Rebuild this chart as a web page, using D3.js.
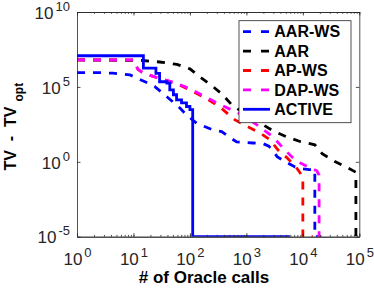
<!DOCTYPE html>
<meta charset="utf-8">
<script src="https://d3js.org/d3.v7.min.js"></script>
<body style="margin:0;background-color:white">
<div id="chart"></div>
</body>
<script>
  // [# of oracle calls, TV - TV_opt]
  const aarWs = [[1,9e5],[2.5,9e5],[4.3,8.2e5],[8.7,6.3e5],[16,2.2e5],[24,1.05e5],[39,2.2e4],[66,4e3],[87,1.35e3],
    [131,380],[255,135],[365,105],[460,55],[673,21],[1300,18],[2000,16],[2500,11],[3000,5],[3500,2.2],[4900,1],
    [7300,0.45],[9300,0.35],[13000,0.3],[16300,0.3],[16300,1e-5],[18500,1e-5]];
  const aar = [[1,6.3e6],[14.7,5.8e6],[29,4.6e6],[59,3.2e6],[100,1.6e6],[150,4.6e5],[245,1.2e5],[368,3.4e4],[553,6.3e3],
    [1020,1.35e3],[1740,400],[2950,117],[5200,46],[8900,22.6],[16300,13.5],[22000,3.5],[37000,1.05],[62000,0.4],
    [87000,0.2],[87000,1e-5]];
  const apWs = [[1,6.3e6],[10,6.3e6],[12,1.5e6],[14,1e6],[21,5.4e5],[36,2.8e5],[61,1.5e5],[100,6.3e4],[200,1.6e4],[353,4e3],
    [630,630],[1150,186],[1740,85],[2620,30],[3600,6.3],[5200,1.9],[7500,0.47],[10000,0.1],[10000,1e-5],[15000,1e-5]];
  const dapWs = [[1,6.3e6],[10,6.3e6],[12,1.5e6],[14,1e6],[21,5.4e5],[36,3e5],[61,1.6e5],[100,7.4e4],[200,1.9e4],[353,6.3e3],
    [770,1.6e3],[1540,295],[2940,47],[4450,8.5],[6400,2.1],[8900,0.85],[13300,0.4],[17700,0.25],[19400,0.13],
    [19400,1e-5],[22500,1e-5]];
  const active = [[1,1.2e7],[15,1.8e6],[25,8e5],[29,2.2e5],[39,1.8e5],[44,6.3e4],[51,3e4],[58,1.35e4],[71,8.5e3],
    [87,4.9e3],[100,3e3],[112,1e-5],[5900,1e-5]];

  const seriesNames = ["AAR-WS","AAR","AP-WS","DAP-WS","ACTIVE"];
  const seriesData = [aarWs, aar, apWs, dapWs, active];
  const seriesColors = ["#0000ff","#000000","#ff0000","#ff00ff","#0000ff"];
  const seriesDashed = [true, true, true, true, false];

  const xTicks = [1,10,100,1000,10000,100000];
  const yTicks = [1e-5,1,1e5,1e10];

  const margin = {top: 12, right: 14.7, bottom: 51.3, left: 77},
    width = 374 - margin.left - margin.right,
    height = 288 - margin.top - margin.bottom;

  const font = "'Liberation Sans', Arial, Helvetica, sans-serif";
  const axisColor = "#262626";

  const svg = d3.select("#chart").append("svg")
    .attr("width", 374).attr("height", 288)
    .style("display","block")
    .style("font-family", font);

  const g = svg.append("g").attr("transform", `translate(${margin.left},${margin.top})`);

  const x = d3.scaleLog().domain([1, 1e5]).range([0, width]);
  const y = d3.scaleLog().domain([1e-5, 1e10]).range([height, 0]);

  g.append("rect").attr("width", width).attr("height", height).attr("fill", "white");

  g.append("clipPath").attr("id","clip")
    .append("rect").attr("width", width).attr("height", height);

  // lines
  const lineLinear = d3.line().x(d => x(d[0])).y(d => y(d[1]));
  const lineStep = d3.line().x(d => x(d[0])).y(d => y(d[1])).curve(d3.curveStepAfter);

  const plot = g.append("g").attr("clip-path","url(#clip)");
  seriesData.forEach((data, i) => {
    plot.append("path")
      .datum(data)
      .attr("fill","none")
      .attr("stroke", seriesColors[i])
      .attr("stroke-width", 2.8)
      .attr("stroke-dasharray", seriesDashed[i] ? "8,8" : null)
      .attr("d", seriesDashed[i] ? lineLinear : lineStep);
  });

  // axes (ticks inward, box on)
  function styleAxis(sel) {
    sel.select(".domain").attr("stroke", axisColor).attr("stroke-width", 0.8);
    sel.selectAll(".tick line").attr("stroke", axisColor).attr("stroke-width", 0.8);
    sel.attr("font-size", null).attr("font-family", null);
  }

  const minor = x.ticks();
  g.append("g").attr("transform", `translate(0,${height})`)
    .call(d3.axisBottom(x).tickValues(minor).tickSize(-1.8).tickSizeOuter(0).tickFormat(""))
    .call(styleAxis);
  g.append("g")
    .call(d3.axisTop(x).tickValues(minor).tickSize(-1.8).tickSizeOuter(0).tickFormat(""))
    .call(styleAxis);
  g.append("g")
    .call(d3.axisTop(x).tickValues(xTicks).tickSize(-3.5).tickSizeOuter(0).tickFormat(""))
    .call(styleAxis);
  g.append("g").attr("transform", `translate(${width},0)`)
    .call(d3.axisRight(y).tickValues(yTicks).tickSize(-3.5).tickSizeOuter(0).tickFormat(""))
    .call(styleAxis);

  const xAxis = g.append("g").attr("transform", `translate(0,${height})`)
    .call(d3.axisBottom(x).tickValues(xTicks).tickSize(-3.5).tickSizeOuter(0).tickPadding(16).tickFormat(""))
    .call(styleAxis);

  const yAxis = g.append("g")
    .call(d3.axisLeft(y).tickValues(yTicks).tickSize(-3.5).tickSizeOuter(0).tickPadding(7).tickFormat(""))
    .call(styleAxis);

  function powerLabel(sel) {
    sel.attr("fill", axisColor).attr("font-size", 17).each(function(d) {
      const t = d3.select(this);
      t.append("tspan").text("10");
      t.append("tspan").attr("dx", 2).attr("dy", -8).attr("font-size", 13)
        .text(Math.round(Math.log10(d)));
    });
  }
  xAxis.selectAll(".tick text").call(powerLabel);
  yAxis.selectAll(".tick text").attr("dy", "0.37em").call(powerLabel);

  // axis titles
  svg.append("text")
    .attr("x", 204).attr("y", 283.3)
    .attr("text-anchor","middle")
    .attr("font-size", 17).attr("font-weight","bold").attr("fill","black")
    .text("# of Oracle calls");

  const yTitle = svg.append("text")
    .attr("transform", "translate(15.5,126.7) rotate(-90)")
    .attr("text-anchor","middle")
    .attr("font-size", 16).attr("font-weight","bold").attr("fill","black")
    .attr("xml:space","preserve");
  yTitle.append("tspan").text("TV  -  TV");
  yTitle.append("tspan").attr("dx", 5).attr("dy", 7).attr("font-size", 12).text("opt");

  // legend
  const legend = svg.append("g").attr("transform","translate(239,20.7)");
  legend.append("rect").attr("width", 112).attr("height", 102)
    .attr("fill","white").attr("stroke", axisColor).attr("stroke-width", 0.8);
  seriesNames.forEach((name, i) => {
    const row = legend.append("g").attr("transform", `translate(0,${11 + i * 19.4})`);
    row.append("line").attr("x1", 4).attr("x2", 31).attr("y1", 0).attr("y2", 0)
      .attr("stroke", seriesColors[i]).attr("stroke-width", 2.8)
      .attr("stroke-dasharray", seriesDashed[i] ? "8,10" : null);
    row.append("text").attr("x", 35.3).attr("dy","0.36em")
      .attr("font-size", 16).attr("font-weight","bold").attr("fill","black")
      .text(name);
  });
</script>
